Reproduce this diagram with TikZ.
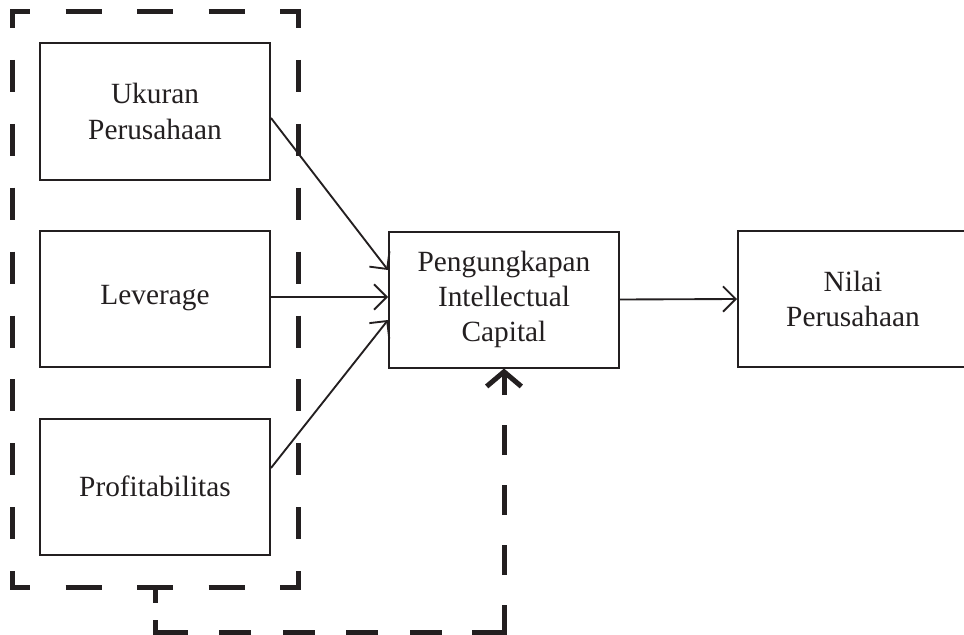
\documentclass[tikz,border=0pt]{standalone}
\usepackage{fontspec}
\setmainfont{Liberation Serif}
\usetikzlibrary{arrows.meta,calc}
\definecolor{ink}{RGB}{35,31,32}
\begin{document}
\begin{tikzpicture}[x=0.75pt,y=-0.75pt,
  box/.style={draw=ink, line width=1.5pt, minimum width=172.5pt, minimum height=102pt,
    inner sep=0pt, align=center, text=ink, font=\fontsize{22}{26.5}\selectfont},
  link/.style={draw=ink, line width=1.4pt, -{Straight Barb[length=9.5pt,width=19pt]}},
  group/.style={draw=ink, line width=3.75pt},
  bigtip/.style={-{Straight Barb[length=11pt,width=26pt]}}
]
\useasboundingbox (0,0) rectangle (964,635);
\clip (0,0) rectangle (964,635);
% boxes
\node[box] (b1) at (155,111.5) {Ukuran\\Perusahaan};
\node[box] (b2) at (155,298.5) {Leverage};
\node[box] (b3) at (155,486.5) {Profitabilitas};
\node[box] (c) at (504,299.5) {Pengungkapan\\Intellectual\\Capital};
\node[box] (n) at (853,299) {Nilai\\Perusahaan};
% arrows
\draw[link] ($(b1.east)+(0,6.5)$) -- ($(c.west)+(0,-29.5)$);
\draw[link] ($(b2.east)+(0,-1.5)$) -- ($(c.west)+(0,-2.5)$);
\draw[link] ($(b3.east)+(0,-18.5)$) -- ($(c.west)+(0,20.5)$);
\draw[link] (c.east) -- (n.west);
% dashed group rectangle
\coordinate (gtl) at (12,12);
\coordinate (gtr) at (298,12);
\coordinate (gbr) at (298,587);
\coordinate (gbl) at (12,587);
\draw[group, dash pattern=on 27pt off 26.625pt, dash phase=13.5pt] (gtl) -- (gtr);
\draw[group, dash pattern=on 27pt off 26.625pt, dash phase=13.5pt] (gbl) -- (gbr);
\draw[group, dash pattern=on 24pt off 23.925pt, dash phase=12pt] (gtl) -- (gbl);
\draw[group, dash pattern=on 24pt off 23.925pt, dash phase=12pt] (gtr) -- (gbr);
\draw[group] ($(gtl)+(0,16)$) -- (gtl) -- ($(gtl)+(18,0)$);
\draw[group] ($(gtr)+(0,16)$) -- (gtr) -- ($(gtr)+(-18,0)$);
\draw[group] ($(gbr)+(0,-16)$) -- (gbr) -- ($(gbr)+(-18,0)$);
\draw[group] ($(gbl)+(0,-16)$) -- (gbl) -- ($(gbl)+(18,0)$);
% dashed feedback path
\coordinate (t1) at (155,587);
\coordinate (t2) at (155,632);
\coordinate (t3) at (504,632);
\draw[group, dash pattern=on 12pt off 12.75pt] (t1) -- (t2);
\draw[group, dash pattern=on 24pt off 23.625pt, dash phase=0.75pt] (t3) -- (t2);
\draw[group, bigtip, dash pattern=on 22.5pt off 22.5pt, dash phase=2.25pt] (t3) -- (c.south);
\draw[group] ($(t2)+(0,-12)$) -- (t2) -- ($(t2)+(30,0)$);
\draw[group] ($(t3)+(0,-27)$) -- (t3) -- ($(t3)+(-32,0)$);
\end{tikzpicture}
\end{document}
